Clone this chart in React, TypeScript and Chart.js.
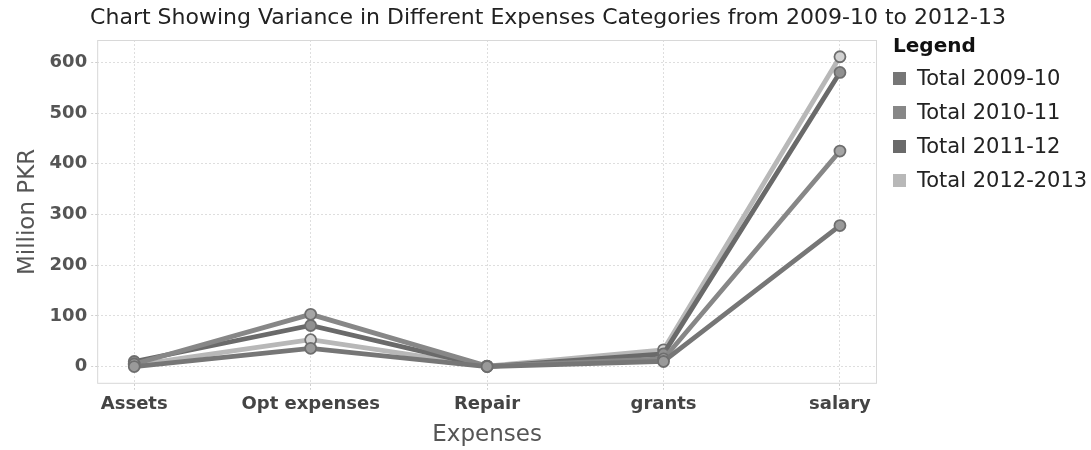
import React, { useEffect, useRef } from "react";
import { Chart, registerables } from "chart.js";

Chart.register(...registerables);

const chartTitle = "Chart Showing Variance in Different Expenses Categories from 2009-10 to 2012-13";
const categories = ["Assets", "Opt expenses", "Repair", "grants", "salary"];
const seriesNames = ["Total 2009-10", "Total 2010-11", "Total 2011-12", "Total 2012-2013"];
const total2009_10 = [0, 36, 0, 10, 278];
const total2010_11 = [5, 103, 1, 15, 425];
const total2011_12 = [10, 81, 0, 25, 580];
const total2012_13 = [3, 53, 1, 33, 611];
const yTicks = [0, 100, 200, 300, 400, 500, 600];

const lineColors = ["#767676", "#878787", "#6a6a6a", "#b8b8b8"];
const pointFills = ["#9a9a9a", "#a5a5a5", "#909090", "#d2d2d2"];

const FONT = "'DejaVu Sans', sans-serif";

// strokes a thin frame round the plot area
const plotFrame = {
  id: "plotFrame",
  beforeDatasetsDraw(chart: any) {
    const { ctx, chartArea } = chart;
    ctx.save();
    ctx.strokeStyle = "#d8d8d8";
    ctx.lineWidth = 1;
    ctx.strokeRect(chartArea.left + 0.5, chartArea.top + 0.5, chartArea.width - 1, chartArea.height - 1);
    ctx.restore();
  },
};

function Legend() {
  return (
    <div style={{ position: "absolute", left: 893, top: 32, fontFamily: FONT, color: "#222" }}>
      <div style={{ fontSize: 20, fontWeight: "bold", lineHeight: "26px", color: "#111" }}>Legend</div>
      {seriesNames.map((name, i) => (
        <div
          key={name}
          style={{ display: "flex", alignItems: "center", height: 34, fontSize: 21, marginTop: i === 0 ? 3 : 0 }}
        >
          <span
            style={{ display: "inline-block", width: 13, height: 13, background: lineColors[i], marginRight: 11 }}
          />
          <span>{name}</span>
        </div>
      ))}
    </div>
  );
}

export default function App() {
  const ref = useRef<HTMLCanvasElement>(null);

  useEffect(() => {
    const all = [total2009_10, total2010_11, total2011_12, total2012_13];
    const chart = new Chart(ref.current!, {
      type: "line",
      data: {
        datasets: all.map((vals, i) => ({
          label: seriesNames[i],
          data: vals.map((v, j) => ({ x: j, y: v })),
          borderColor: lineColors[i],
          backgroundColor: lineColors[i],
          borderWidth: 4.8,
          pointRadius: 5.5,
          pointBorderWidth: 1.8,
          pointBackgroundColor: pointFills[i],
          pointBorderColor: "#6e6e6e",
          tension: 0,
        })),
      },
      plugins: [plotFrame],
      options: {
        animation: false,
        responsive: true,
        maintainAspectRatio: false,
        layout: { padding: { left: 14, right: 214, top: 40, bottom: 1 } },
        plugins: {
          title: { display: false },
          legend: { display: false },
          tooltip: { enabled: false },
        },
        scales: {
          x: {
            type: "linear",
            min: -0.21,
            max: 4.21,
            afterBuildTicks: (axis: any) => {
              axis.ticks = categories.map((_, i) => ({ value: i }));
            },
            ticks: {
              callback: (v: any) => categories[v] ?? "",
              font: { family: FONT, size: 18, weight: "bold" },
              color: "#444",
              padding: 4,
              maxRotation: 0,
              autoSkip: false,
            },
            grid: { color: "#dedede", tickColor: "#cfcfcf", tickLength: 6, tickBorderDash: [2, 2] },
            border: { display: false, dash: [2, 2] },
            title: {
              display: true,
              text: "Expenses",
              font: { family: FONT, size: 23 },
              color: "#555",
              padding: { top: 2, bottom: 0 },
            },
          },
          y: {
            type: "linear",
            min: -34,
            max: 644,
            afterBuildTicks: (axis: any) => {
              axis.ticks = yTicks.map((v) => ({ value: v }));
            },
            ticks: {
              font: { family: FONT, size: 18, weight: "bold" },
              color: "#555",
              padding: 4,
            },
            grid: { color: "#dedede", tickColor: "#cfcfcf", tickLength: 6, tickBorderDash: [2, 2] },
            border: { display: false, dash: [2, 2] },
            title: {
              display: true,
              text: "Million PKR",
              font: { family: FONT, size: 23 },
              color: "#555",
              padding: { top: 0, bottom: 4 },
            },
          },
        },
      },
    });
    return () => chart.destroy();
  }, []);

  return (
    <div style={{ position: "absolute", left: 0, top: 0, width: 1091, height: 450, background: "#fff" }}>
      <canvas ref={ref} />
      <div
        style={{
          position: "absolute",
          left: 0,
          top: 3,
          width: 1096,
          textAlign: "center",
          fontFamily: FONT,
          fontSize: 22,
          lineHeight: "28px",
          color: "#222",
          whiteSpace: "nowrap",
        }}
      >
        {chartTitle}
      </div>
      <Legend />
    </div>
  );
}
